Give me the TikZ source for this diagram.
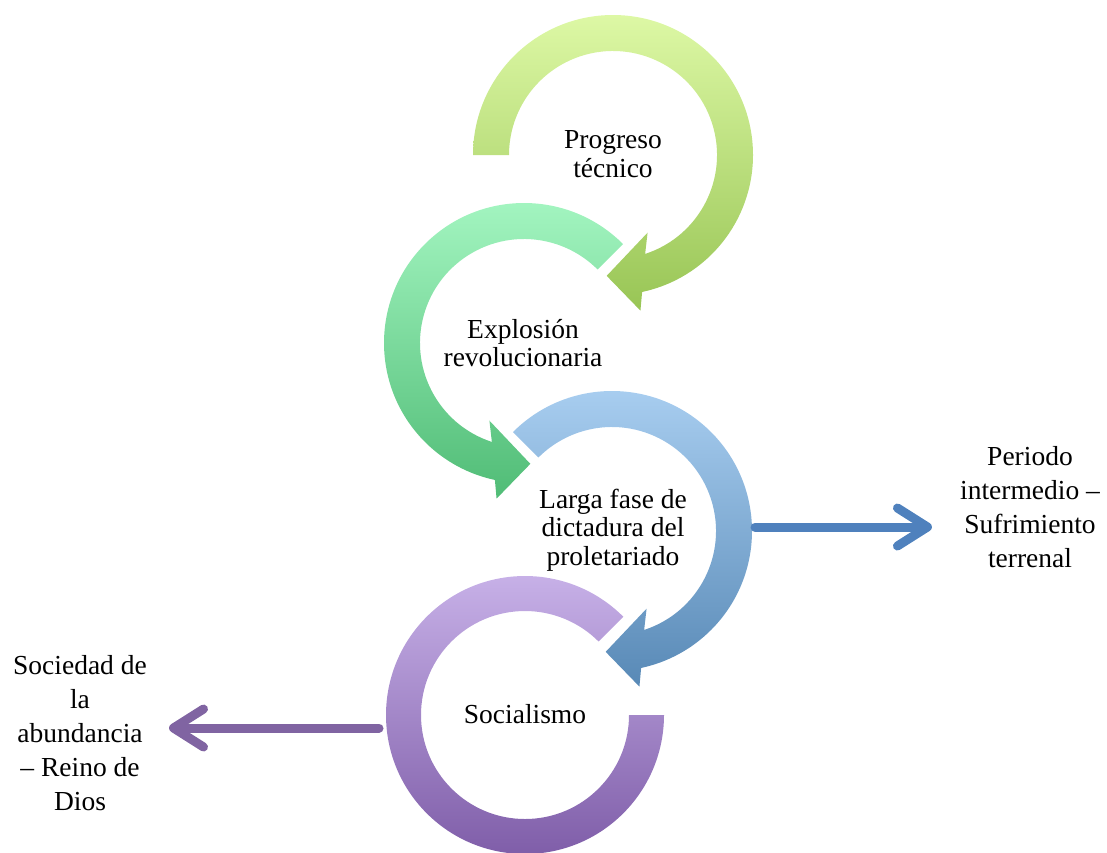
\documentclass[tikz,border=0pt]{standalone}
\usepackage{fontspec}
\setmainfont{Liberation Serif}
\usetikzlibrary{arrows.meta,calc}
\definecolor{gAt}{HTML}{DDF8A5}\definecolor{gAb}{HTML}{98C555}
\definecolor{gBt}{HTML}{A6F7C3}\definecolor{gBb}{HTML}{50BC76}
\definecolor{gCt}{HTML}{ABD0F2}\definecolor{gCb}{HTML}{5889B6}
\definecolor{gDt}{HTML}{CAB4EA}\definecolor{gDb}{HTML}{7C5AA6}
\definecolor{sideblue}{HTML}{4F81BD}
\definecolor{sidepurple}{HTML}{8064A2}
\tikzset{
  ringlabel/.style={align=center,inner sep=0pt,font=\fontsize{27.5}{28.5}\selectfont},
  sidelabel/.style={align=center,inner sep=0pt,font=\fontsize{27.5}{34.2}\selectfont},
  sidearrow/.style={line width=9pt,line cap=round,line join=round,
    -{Straight Barb[length=30pt,width=38pt,round]}},
}
% clockwise ring arrow: #1 centre, #2 start angle, #3 top colour, #4 bottom colour
\newcommand{\mycwring}[4]{%
  \shade[top color=#3,bottom color=#4]
    ($(#1)+(#2:140pt)$) arc[start angle=#2,end angle=-78,radius=140pt]
    -- ($(#1)+(-80:158pt)$) -- ($(#1)+(-93:121pt)$) -- ($(#1)+(-66:85pt)$)
    -- ($(#1)+(-72:104pt)$) arc[start angle=-72,end angle=#2,radius=104pt] -- cycle;}
% counter-clockwise ring arrow
\newcommand{\myccwring}[4]{%
  \shade[top color=#3,bottom color=#4]
    ($(#1)+(#2:140pt)$) arc[start angle=#2,end angle=258,radius=140pt]
    -- ($(#1)+(260:158pt)$) -- ($(#1)+(273:121pt)$) -- ($(#1)+(246:85pt)$)
    -- ($(#1)+(252:104pt)$) arc[start angle=252,end angle=#2,radius=104pt] -- cycle;}
\begin{document}
\begin{tikzpicture}
\useasboundingbox (0pt,0pt) rectangle (1107pt,-852pt);
\clip (0pt,0pt) rectangle (1107pt,-852pt);
% ring centres
\coordinate (cA) at (613pt,-155pt);
\coordinate (cB) at (524pt,-343pt);
\coordinate (cC) at (612pt,-531pt);
\coordinate (cD) at (525pt,-715pt);
% rings
\mycwring{cA}{180}{gAt}{gAb}
\myccwring{cB}{45}{gBt}{gBb}
\mycwring{cC}{135}{gCt}{gCb}
\shade[top color=gDt,bottom color=gDb]
  ($(cD)+(45:139pt)$) arc[start angle=45,end angle=360,radius=139pt]
  -- ($(cD)+(0:104pt)$) arc[start angle=360,end angle=45,radius=104pt] -- cycle;
% labels
\node[ringlabel] (progreso) at (613pt,-154pt) {Progreso\\técnico};
\node[ringlabel] (explosion) at (523pt,-343pt) {Explosión\\revolucionaria};
\node[ringlabel] (larga) at (613pt,-530pt) {Larga fase de\\dictadura del\\proletariado};
\node[ringlabel] (socialismo) at (525pt,-714pt) {Socialismo};
\node[sidelabel] (periodo) at (1030pt,-507pt) {Periodo\\intermedio –\\Sufrimiento\\terrenal};
\node[sidelabel] (sociedad) at (80pt,-733pt) {Sociedad de\\la\\abundancia\\– Reino de\\Dios};
% side arrows
\coordinate (bstart) at ($(cC)+(143pt,4pt)$);
\coordinate (btip) at ($(periodo.west)+(-28pt,-20pt)$);
\coordinate (pstart) at ($(cD)+(-146pt,-13pt)$);
\coordinate (ptip) at ($(sociedad.east)+(22pt,2pt)$);
\draw[sidearrow,sideblue] (bstart) -- (bstart -| btip);
\draw[sidearrow,sidepurple] (pstart) -- (pstart -| ptip);
\end{tikzpicture}
\end{document}
